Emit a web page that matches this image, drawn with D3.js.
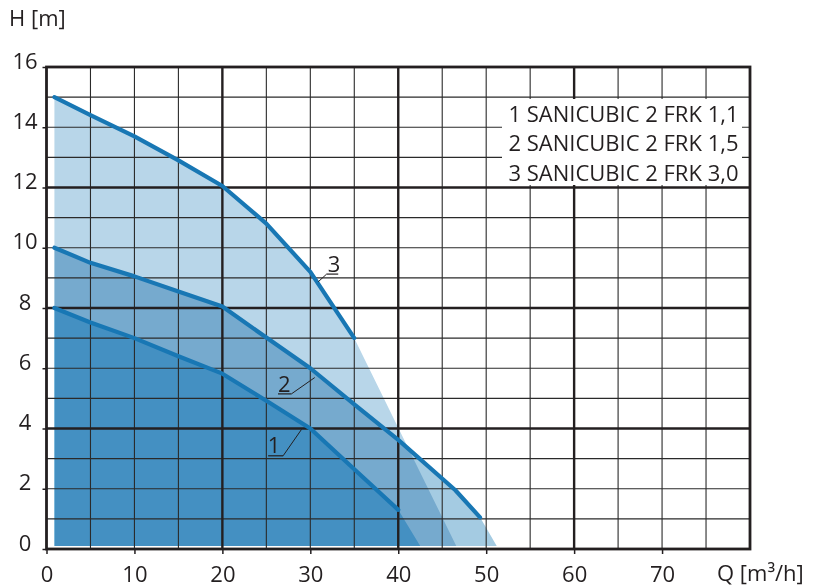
<!DOCTYPE html>
<html>
<head>
<meta charset="utf-8">
<script src="https://cdn.jsdelivr.net/npm/d3@7"></script>
<style>
  html, body { margin: 0; padding: 0; background: #fff; }
  svg { display: block; font-family: "Open Sans", "Noto Sans", sans-serif; }
</style>
</head>
<body>
<svg id="chart" width="813" height="587"></svg>
<script>
// ---- data ----
const qTicks = [0, 10, 20, 30, 40, 50, 60, 70];
const hTicks = [0, 2, 4, 6, 8, 10, 12, 14, 16];
const legendLabels = ["1 SANICUBIC 2 FRK 1,1", "2 SANICUBIC 2 FRK 1,5", "3 SANICUBIC 2 FRK 3,0"];
const curveNames = ["1", "2", "3"];

const curve1Q = [0.9, 5, 10, 15, 20, 25, 30, 35, 40];
const curve1H = [8.0, 7.52, 7.0, 6.4, 5.82, 4.92, 4.0, 2.65, 1.3];
const curve2Q = [0.9, 5, 10, 15, 20, 25, 30, 35, 40, 46.5, 49.3];
const curve2H = [10.0, 9.5, 9.05, 8.55, 8.05, 7.02, 6.0, 4.8, 3.62, 1.95, 1.05];
const curve3Q = [0.9, 5, 10, 15, 20, 25, 30, 35];
const curve3H = [15.0, 14.4, 13.7, 12.9, 12.05, 10.8, 9.2, 7.0];
// shaded areas: each curve extended down to the base at this flow
const fillEndQ = [42.5, 51.2, 46.6];
const fillBaseH = 0.1;

// ---- setup ----
const svg = d3.select("#chart");
const W = 813, H = 587;
const x = d3.scaleLinear([0, 80], [46.5, 750]);
const y = d3.scaleLinear([0, 16], [549, 67]);
const ink = "#231f20";
const lineBlue = "#1877b4";
const fillColors = ["#92d8f1", "#a4cbe2", "#b8d6e9"];

svg.append("rect").attr("width", W).attr("height", H).attr("fill", "#fff");

const curves = [
  curve1Q.map((q, i) => [q, curve1H[i]]),
  curve2Q.map((q, i) => [q, curve2H[i]]),
  curve3Q.map((q, i) => [q, curve3H[i]])
];

// fills (multiply so overlaps darken)
const fillG = svg.append("g");
const area = d3.line().x(d => x(d[0])).y(d => y(d[1]));
[2, 1, 0].forEach(i => {
  const pts = curves[i].slice();
  pts.push([fillEndQ[i], fillBaseH]);
  pts.push([curves[i][0][0], fillBaseH]);
  fillG.append("path")
    .attr("d", area(pts) + "Z")
    .attr("fill", fillColors[i])
    .style("mix-blend-mode", "multiply");
});

// grid
const grid = svg.append("g");
const minorQ = d3.range(5, 80, 5).filter(v => v % 20 !== 0);
const minorH = d3.range(1, 16, 1).filter(v => v % 4 !== 0);
grid.selectAll(".vq").data(minorQ).join("line")
  .attr("x1", d => x(d)).attr("x2", d => x(d))
  .attr("y1", y(0)).attr("y2", y(16))
  .attr("stroke", "#2a2a2a").attr("stroke-width", 1.1);
grid.selectAll(".hh").data(minorH).join("line")
  .attr("x1", x(0)).attr("x2", x(80))
  .attr("y1", d => y(d)).attr("y2", d => y(d))
  .attr("stroke", "#2a2a2a").attr("stroke-width", 1.1);
grid.selectAll(".vm").data([20, 40, 60]).join("line")
  .attr("x1", d => x(d)).attr("x2", d => x(d))
  .attr("y1", y(0)).attr("y2", y(16))
  .attr("stroke", ink).attr("stroke-width", 2.4);
grid.selectAll(".hm").data([4, 8, 12]).join("line")
  .attr("x1", x(0)).attr("x2", x(80))
  .attr("y1", d => y(d)).attr("y2", d => y(d))
  .attr("stroke", ink).attr("stroke-width", 2.4);

// axes (ticks + labels)
const xAxis = svg.append("g").attr("transform", `translate(0,${y(0)})`)
  .call(d3.axisBottom(x).tickValues(qTicks).tickSize(5).tickFormat(d3.format("d")));
xAxis.select(".domain").remove();
xAxis.selectAll(".tick line").attr("stroke", ink).attr("stroke-width", 1.5);
xAxis.selectAll(".tick text").attr("y", 33).attr("dy", 0)
  .attr("fill", ink).style("font-size", "22px").style("font-family", "'Open Sans', sans-serif");

const yAxis = svg.append("g").attr("transform", `translate(${x(0)},0)`)
  .call(d3.axisLeft(y).tickValues(hTicks).tickSize(4).tickFormat(d3.format("d")));
yAxis.select(".domain").remove();
yAxis.selectAll(".tick line").attr("stroke", ink).attr("stroke-width", 1.5);
yAxis.selectAll(".tick text").attr("x", -21.5).attr("dy", 1)
  .attr("text-anchor", "middle")
  .attr("fill", ink).style("font-size", "22px").style("font-family", "'Open Sans', sans-serif");

// frame
svg.append("rect")
  .attr("x", x(0)).attr("y", y(16))
  .attr("width", x(80) - x(0)).attr("height", y(0) - y(16))
  .attr("fill", "none").attr("stroke", ink).attr("stroke-width", 2.8);

// axis titles
svg.append("text").attr("x", 9).attr("y", 26).text("H [m]")
  .attr("fill", ink).style("font-size", "22px");
svg.append("text").attr("x", 717).attr("y", 581).text("Q [m³/h]")
  .attr("fill", ink).style("font-size", "22px");

// legend box
svg.append("rect").attr("x", 502).attr("y", 99).attr("width", 240).attr("height", 86).attr("fill", "#fff");
svg.append("g").selectAll("text").data(legendLabels).join("text")
  .attr("x", 738.5).attr("y", (d, i) => 121.7 + i * 29.7)
  .attr("text-anchor", "end").attr("fill", ink).style("font-size", "22px")
  .text(d => d);

// curves
const line = d3.line().x(d => x(d[0])).y(d => y(d[1]));
svg.append("g").selectAll("path").data(curves).join("path")
  .attr("d", line).attr("fill", "none")
  .attr("stroke", lineBlue).attr("stroke-width", 4.2)
  .attr("stroke-linejoin", "round").attr("stroke-linecap", "round");

// curve labels with leaders (tip in data coords, label offset in px)
const labelTips = [[29.0, 3.97], [30.5, 5.69], [30.9, 8.87]];
const labelOffsets = [
  { ux1: -33.4, ux2: -18.4, uy: 26.4, lx: -18.4, tx: -27.5, ty: 24 },
  { ux1: -36.7, ux2: -23.3, uy: 16.3, lx: -23.3, tx: -30.5, ty: 14 },
  { ux1: 8.4, ux2: 20, uy: -7.7, lx: 8.4, tx: 15.7, ty: -9.7 }
];
const lab = svg.append("g");
curveNames.forEach((name, i) => {
  const tx = x(labelTips[i][0]), ty = y(labelTips[i][1]);
  const o = labelOffsets[i];
  lab.append("line").attr("x1", tx + o.ux1).attr("x2", tx + o.ux2)
    .attr("y1", ty + o.uy).attr("y2", ty + o.uy)
    .attr("stroke", ink).attr("stroke-width", 1.2);
  lab.append("line").attr("x1", tx + o.lx).attr("y1", ty + o.uy)
    .attr("x2", tx).attr("y2", ty)
    .attr("stroke", ink).attr("stroke-width", 1);
  lab.append("text").attr("x", tx + o.tx).attr("y", ty + o.ty)
    .attr("text-anchor", "middle").attr("fill", ink).style("font-size", "22px")
    .text(name);
});
</script>
</body>
</html>
